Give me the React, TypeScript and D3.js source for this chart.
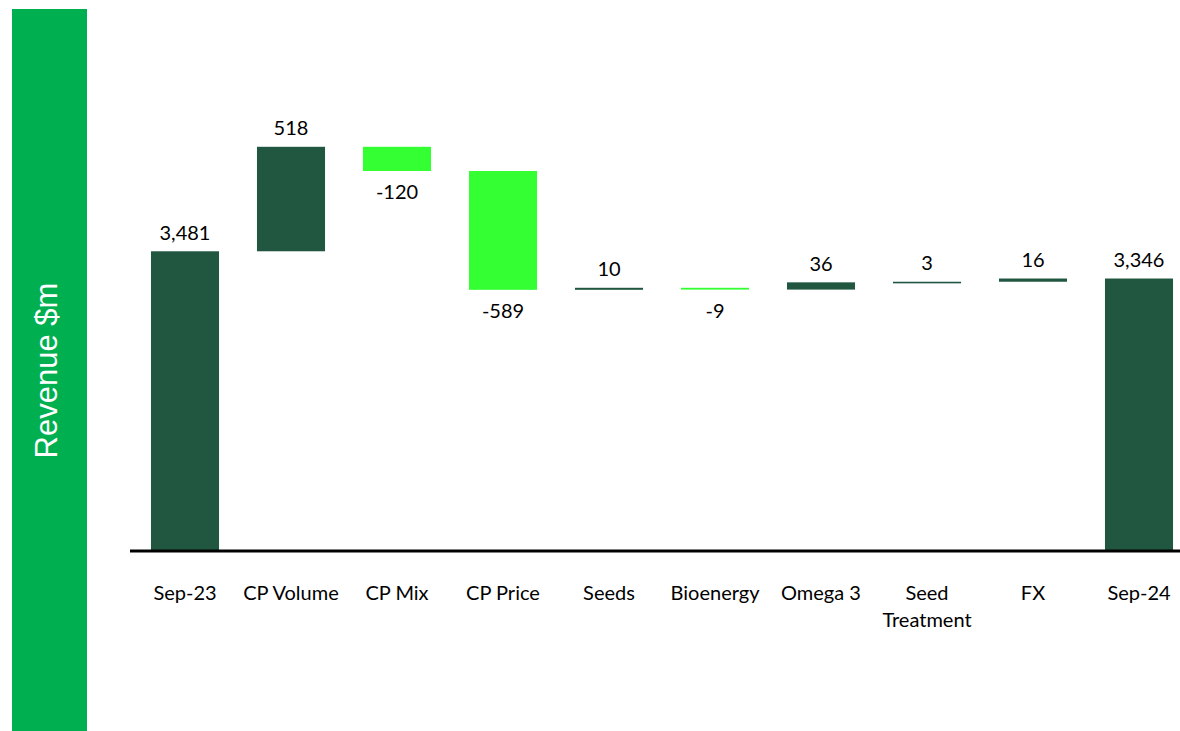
import React from "react";
import * as d3 from "d3";

const categories = ["Sep-23", "CP Volume", "CP Mix", "CP Price", "Seeds", "Bioenergy", "Omega 3", "Seed Treatment", "FX", "Sep-24"];
const categoryLines = [["Sep-23"], ["CP Volume"], ["CP Mix"], ["CP Price"], ["Seeds"], ["Bioenergy"], ["Omega 3"], ["Seed", "Treatment"], ["FX"], ["Sep-24"]];
const values = [3481, 518, -120, -589, 10, -9, 36, 3, 16, 3346];
const kinds = ["total", "delta", "delta", "delta", "delta", "delta", "delta", "delta", "delta", "total"];
const axisTitle = "Revenue $m";

const W = 1180;
const H = 731;
const DARK = "#215741";
const LIGHT = "#33FF33";
const BAND = "#00B050";
const FONT = "Lato, 'Open Sans', sans-serif";

export default function App() {
  const x = d3.scaleBand<string>().domain(categories).range([132, 1192]).paddingInner(0.358).paddingOuter(0.179);
  const y = d3.scaleLinear().domain([2000, 4000]).range([550, 146.6]);
  const fmt = (v: number) => d3.format(",")(v).replace("\u2212", "-");

  let running = 0;
  const bars = values.map((v, i) => {
    let lo: number, hi: number;
    if (kinds[i] === "total") {
      lo = y.domain()[0];
      hi = v;
      running = v;
    } else {
      const start = running;
      const end = running + v;
      lo = Math.min(start, end);
      hi = Math.max(start, end);
      running = end;
    }
    const yTop = y(hi);
    const yBot = y(lo);
    const h = Math.max(yBot - yTop, 1.6);
    return {
      cat: categories[i],
      v,
      x: x(categories[i]) as number,
      yTop,
      yBot: yTop + h,
      h,
      color: v < 0 ? LIGHT : DARK,
    };
  });

  return (
    <svg width={W} height={H} style={{ position: "absolute", left: 0, top: 0, background: "#fff" }}>
      <rect x={12} y={9} width={75} height={H - 9} fill={BAND} />
      <text
        transform={`translate(57,370.5) rotate(-90)`}
        textAnchor="middle"
        fill="#fff"
        fontFamily="'Liberation Sans', Arial, sans-serif"
        fontSize={31}
      >
        {axisTitle}
      </text>
      {bars.map((b) => (
        <rect key={b.cat} x={b.x} y={b.yTop} width={x.bandwidth()} height={b.h} fill={b.color} />
      ))}
      {bars.map((b) => (
        <text
          key={"l" + b.cat}
          x={b.x + x.bandwidth() / 2}
          y={b.v < 0 ? b.yBot + 28 : b.yTop - 11.5}
          textAnchor="middle"
          fontFamily={FONT}
          fontSize={20}
          fill="#000"
        >
          {fmt(b.v)}
        </text>
      ))}
      <line x1={130} x2={W} y1={551} y2={551} stroke="#000" strokeWidth={3} />
      {categoryLines.map((lines, i) => (
        <text
          key={"c" + i}
          x={(x(categories[i]) as number) + x.bandwidth() / 2}
          y={600}
          textAnchor="middle"
          fontFamily={FONT}
          fontSize={20}
          fill="#000"
        >
          {lines.map((ln, j) => (
            <tspan key={j} x={(x(categories[i]) as number) + x.bandwidth() / 2} dy={j === 0 ? 0 : 27}>
              {ln}
            </tspan>
          ))}
        </text>
      ))}
    </svg>
  );
}
